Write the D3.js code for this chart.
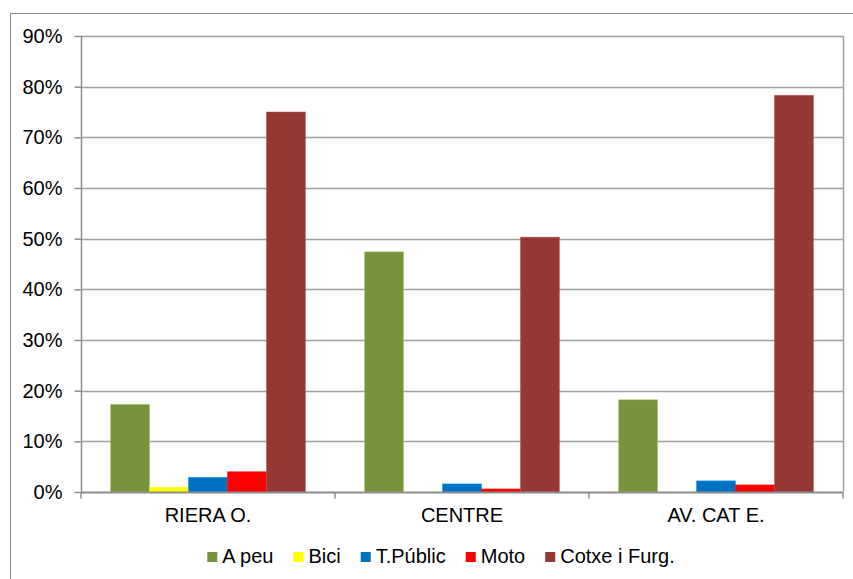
<!DOCTYPE html>
<html><head><meta charset="utf-8">
<script src="https://cdn.jsdelivr.net/npm/d3@7/dist/d3.min.js"></script>
<style>body{margin:0;background:#fff}svg{display:block}text{font-family:"Liberation Sans",Arial,sans-serif;fill:#000}</style>
</head><body>
<svg id="c" width="853" height="579"></svg>
<script>
const categories = ["RIERA O.", "CENTRE", "AV. CAT E."];
const seriesNames = ["A peu", "Bici", "T.Públic", "Moto", "Cotxe i Furg."];
const seriesColors = ["#77933C", "#FFFF00", "#0070C0", "#FF0000", "#953735"];
const aPeu = [17.3, 47.4, 18.2];
const bici = [0.9, 0, 0];
const tPublic = [2.9, 1.6, 2.2];
const moto = [4.0, 0.6, 1.4];
const cotxe = [75.0, 50.3, 78.3];
const yTicks = [0, 10, 20, 30, 40, 50, 60, 70, 80, 90];

const series = [aPeu, bici, tPublic, moto, cotxe];
const svg = d3.select("#c");
const L = 81, R = 843, T = 36, B = 492;
const fs = 20;

// outer chart border
svg.append("path").attr("d", "M10.5,579 V13.5 H853").attr("fill", "none").attr("stroke", "#8c8c8c").attr("stroke-width", 1);

const x0 = d3.scaleBand().domain(categories).range([L, R]).paddingInner(0).paddingOuter(0);
const x1 = d3.scaleBand().domain(seriesNames).range([0, x0.bandwidth()]).paddingInner(0).paddingOuter(0.76);
const y = d3.scaleLinear().domain([0, 90]).range([B, T]);

// gridlines
svg.append("g").selectAll("line").data(yTicks.slice(1)).join("line")
  .attr("x1", L).attr("x2", R).attr("y1", d => Math.round(y(d)) + 0.5).attr("y2", d => Math.round(y(d)) + 0.5)
  .attr("stroke", "#a0a0a0").attr("stroke-width", 1.5);
// right border of plot
svg.append("line").attr("x1", R + 0.5).attr("x2", R + 0.5).attr("y1", T).attr("y2", B).attr("stroke", "#a0a0a0").attr("stroke-width", 1.5);

// bars
const gs = svg.append("g").selectAll("g").data(categories).join("g").attr("transform", d => `translate(${x0(d)},0)`);
gs.selectAll("rect").data((c, ci) => seriesNames.map((s, si) => ({s, v: series[si][ci], c: seriesColors[si]}))).join("rect")
  .attr("x", d => x1(d.s)).attr("width", x1.bandwidth())
  .attr("y", d => y(d.v)).attr("height", d => B - y(d.v))
  .attr("fill", d => d.c)
  .attr("stroke", d => d3.color(d.c).brighter(0.9)).attr("stroke-opacity", d => d.v > 0 ? 0.6 : 0).attr("stroke-width", 0.8);

// y axis
const yAxis = d3.axisLeft(y).tickValues(yTicks).tickFormat(d => d + "%").tickSize(7).tickPadding(12);
const ya = svg.append("g").attr("transform", `translate(${L + 0.5},0)`).call(yAxis);
ya.select(".domain").attr("stroke", "#8c8c8c").attr("stroke-width", 1.5).attr("d", `M-0,${T}V${B}`);
ya.selectAll(".tick line").attr("stroke", "#8c8c8c").attr("stroke-width", 1.5);
ya.selectAll(".tick text").attr("font-size", fs).attr("font-family", '"Liberation Sans",Arial,sans-serif').attr("fill", "#000");

// x axis
const xa = svg.append("g").attr("transform", `translate(0,${B + 0.5})`);
xa.append("line").attr("x1", L).attr("x2", R).attr("stroke", "#8c8c8c").attr("stroke-width", 2);
xa.selectAll("line.sep").data([L, ...categories.map(c => x0(c) + x0.bandwidth())]).join("line").attr("class", "sep")
  .attr("x1", d => d).attr("x2", d => d).attr("y1", 0).attr("y2", 6).attr("stroke", "#8c8c8c").attr("stroke-width", 1.5);
xa.selectAll("text").data(categories).join("text")
  .attr("x", d => x0(d) + x0.bandwidth() / 2).attr("y", 29).attr("text-anchor", "middle").attr("font-size", fs).text(d => d);

// legend
const lg = svg.append("g");
const items = lg.selectAll("g").data(seriesNames).join("g");
items.append("rect").attr("width", 10).attr("height", 10).attr("y", 552).attr("fill", (d, i) => seriesColors[i]);
items.append("text").attr("x", 15).attr("y", 563).attr("font-size", fs).text(d => d);
let xpos = 0;
const pos = [];
items.each(function () {
  const w = d3.select(this).select("text").node().getComputedTextLength();
  pos.push(xpos);
  xpos += 15 + w + 20;
});
const total = xpos - 20;
const start = 441 - total / 2;
items.attr("transform", (d, i) => `translate(${start + pos[i]},0)`);
</script>
</body></html>
